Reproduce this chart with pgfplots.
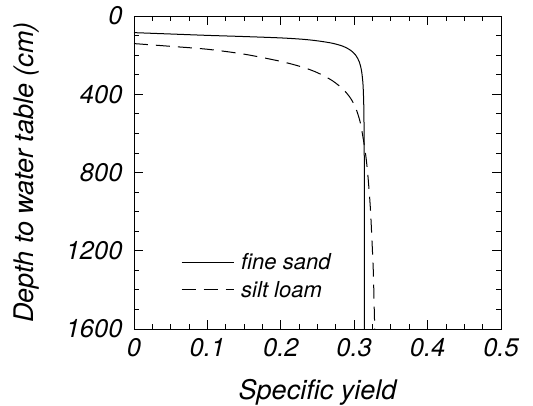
\documentclass[border=0pt]{standalone}
\usepackage{fontspec}
\setmainfont{TeX Gyre Heros}
\usepackage{pgfplots}
\pgfplotsset{compat=1.18}
\begin{document}
\begin{tikzpicture}[font=\itshape]
\useasboundingbox (-134pt,-76pt) rectangle (399pt,329pt);
\begin{axis}[
  at={(0,0)}, anchor=south west,
  scale only axis, width=367pt, height=313pt,
  xmin=0, xmax=0.5, ymin=0, ymax=1600,
  y dir=reverse,
  xtick={0,0.1,0.2,0.3,0.4,0.5},
  xticklabels={0,0.1,0.2,0.3,0.4,0.5},
  ytick={0,400,800,1200,1600},
  yticklabels={0,400,800,1200,1600},
  minor x tick num=3, minor y tick num=3,
  tick align=inside,
  major tick length=9pt, minor tick length=5pt,
  every tick/.style={black, line width=0.8pt},
  axis line style={black, line width=0.9pt},
  tick label style={font=\fontsize{25.5}{30}\selectfont\itshape},
  xticklabel style={yshift=-6pt},
  yticklabel style={xshift=-8pt},
  xlabel={Specific yield},
  ylabel={Depth to water table (cm)},
  label style={font=\fontsize{27}{32}\selectfont\itshape},
  xlabel style={at={(axis description cs:0.5,-0.225)}, anchor=base},
  ylabel style={at={(axis description cs:-0.275,0.5)}, anchor=base, rotate=0},
  legend style={draw=none, fill=none, at={(axis cs:0.06,1330)}, anchor=west,
    font=\fontsize{22}{26}\selectfont\itshape, row sep=6pt,
    legend cell align=left, /tikz/every even column/.append style={column sep=0pt}},
  legend image code/.code={\draw[#1] (0pt,0pt) -- (52pt,0pt);},
  legend style={nodes={inner xsep=7pt}},
]
\addplot[black, line width=1pt, smooth] coordinates {
(0,85) (0.05,92) (0.1,99) (0.15,105) (0.2,112) (0.23,119) (0.25,127) (0.27,139) (0.285,155) (0.295,175) (0.302,200) (0.307,235) (0.310,280) (0.312,350) (0.313,450) (0.3135,600) (0.3138,800) (0.314,1100) (0.314,1600)
};
\addlegendentry{fine sand}
\addplot[black, line width=1pt, dash pattern=on 14pt off 8pt, smooth] coordinates {
(0,141) (0.05,155) (0.1,170) (0.15,195) (0.2,232) (0.23,262) (0.25,290) (0.27,330) (0.285,375) (0.295,420) (0.302,470) (0.308,540) (0.312,620) (0.316,720) (0.319,830) (0.322,980) (0.324,1130) (0.326,1300) (0.327,1450) (0.328,1600)
};
\addlegendentry{silt loam}
\end{axis}
\end{tikzpicture}
\end{document}
